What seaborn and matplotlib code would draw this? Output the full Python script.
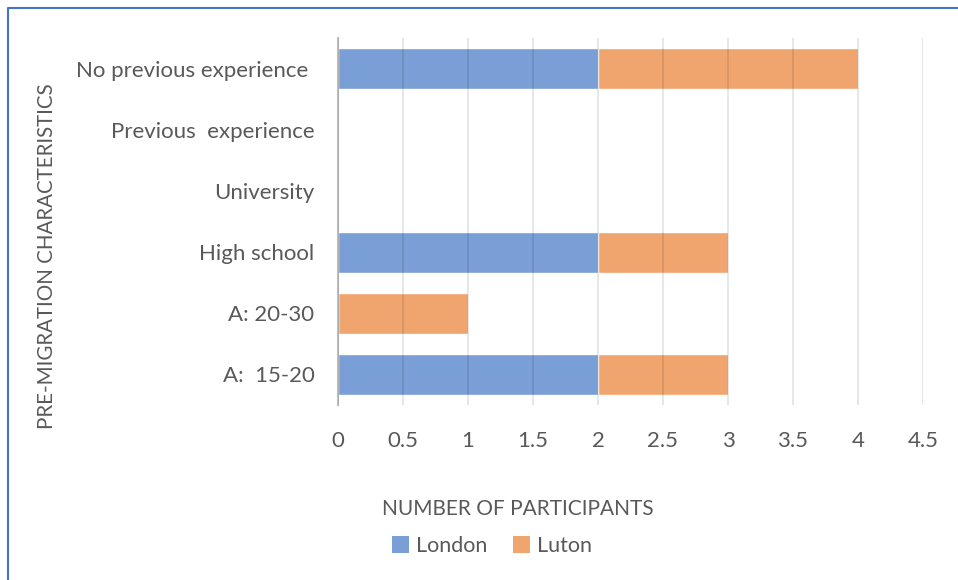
import matplotlib
matplotlib.use("Agg")
import matplotlib.pyplot as plt
from matplotlib.lines import Line2D
from matplotlib.patches import Patch
import seaborn as sns
import pandas as pd
import numpy as np

categories = ["No previous experience ", "Previous  experience", "University",
              "High school", "A: 20-30", "A:  15-20"]
london = [2, 0, 0, 2, 0, 2]
luton = [2, 0, 0, 1, 1, 1]
xticks = [0, 0.5, 1, 1.5, 2, 2.5, 3, 3.5, 4, 4.5]
xtick_labels = ["0", "0.5", "1", "1.5", "2", "2.5", "3", "3.5", "4", "4.5"]
series_names = ["London", "Luton"]

sns.set_style("white")
plt.rcParams['font.family'] = ['Lato', 'DejaVu Sans']
TXT = "#595959"
C_LON = "#7A9ED6"
C_LUT = "#F1A56E"

df = pd.DataFrame({"cat": categories, "London": london, "Luton": luton})
df["total"] = df["London"] + df["Luton"]

fig = plt.figure(figsize=(9.58, 5.80), dpi=100)
ax = fig.add_axes([338/958, 1-405/580, (923-338)/958, (405-38)/580])

sns.barplot(data=df, x="total", y="cat", orient="h", color=C_LUT, width=0.67,
            saturation=1, ax=ax, order=categories)
sns.barplot(data=df, x="London", y="cat", orient="h", color=C_LON, width=0.67,
            saturation=1, ax=ax, order=categories)

ax.set_xlim(0, 4.5)
ax.set_ylim(5.5, -0.5)
ax.set_xticks(xticks)
ax.set_xticklabels(xtick_labels)
ax.set_axisbelow(False)
ax.grid(axis="x", color="black", alpha=0.1, linewidth=1.3)
ax.grid(axis="y", visible=False)
for s in ["top", "right", "bottom"]:
    ax.spines[s].set_visible(False)
ax.spines["left"].set_color("#BFBFBF")
ax.spines["left"].set_linewidth(1.5)
ax.tick_params(axis="both", length=0, colors=TXT, labelsize=16)
ax.tick_params(axis="y", pad=17)
ax.tick_params(axis="x", pad=19)
ax.set_xlabel("")
ax.set_ylabel("")

fig.text(47/958, 1-256/580, "PRE-MIGRATION CHARACTERISTICS", rotation=90,
         ha="center", va="center", color=TXT, fontsize=14.8)
fig.text(518/958, 1-509/580, "NUMBER OF PARTICIPANTS", ha="center", va="center",
         color=TXT, fontsize=15)

handles = [Patch(facecolor=C_LON, edgecolor="none"), Patch(facecolor=C_LUT, edgecolor="none")]
leg = fig.legend(handles, series_names, loc="center", bbox_to_anchor=(492/958, 1-546/580),
                 ncol=2, frameon=False, fontsize=15.5, handlelength=0.8, handleheight=0.8,
                 handletextpad=0.3, columnspacing=1.2)
for t in leg.get_texts():
    t.set_color(TXT)

# chart border
fig.add_artist(Line2D([8/958, 8/958, 1], [0, 1-8/580, 1-8/580], transform=fig.transFigure,
                      color="#4472C4", linewidth=1.5))

fig.savefig("out.png", dpi=100, facecolor="white")
